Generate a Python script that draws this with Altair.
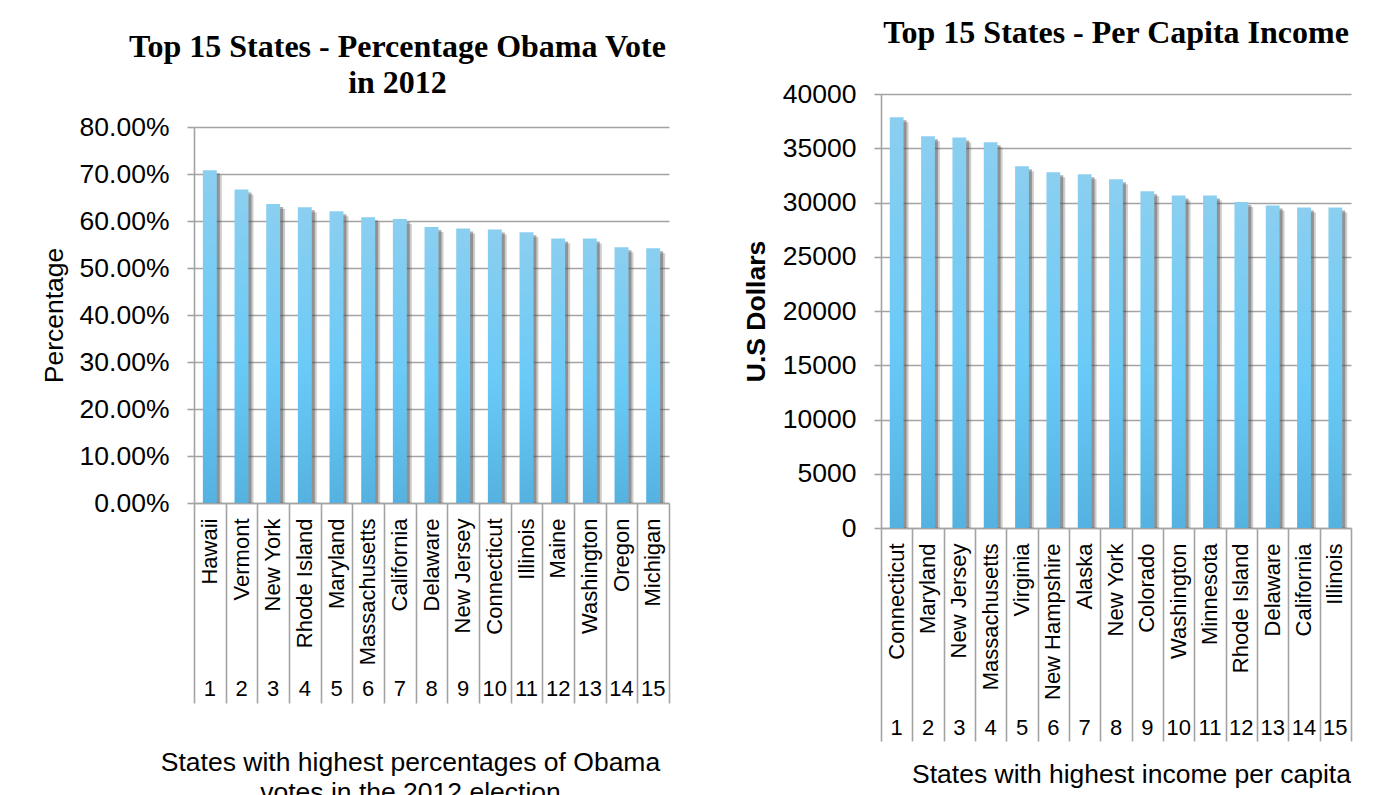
import altair as alt
import pandas as pd

# ---------------- data ----------------
obama_states = ["Hawaii", "Vermont", "New York", "Rhode Island", "Maryland",
                "Massachusetts", "California", "Delaware", "New Jersey",
                "Connecticut", "Illinois", "Maine", "Washington", "Oregon",
                "Michigan"]
obama_pct = [0.708, 0.667, 0.636, 0.629, 0.621, 0.608, 0.604, 0.587, 0.584,
             0.582, 0.576, 0.563, 0.563, 0.544, 0.542]

income_states = ["Connecticut", "Maryland", "New Jersey", "Massachusetts",
                 "Virginia", "New Hampshire", "Alaska", "New York", "Colorado",
                 "Washington", "Minnesota", "Rhode Island", "Delaware",
                 "California", "Illinois"]
income_usd = [37860, 36100, 36000, 35550, 33340, 32790, 32600, 32140, 31030,
              30650, 30650, 30050, 29720, 29550, 29550]

ranks = [str(i) for i in range(1, 16)]

pct_ticks = [0.0, 0.1, 0.2, 0.3, 0.4, 0.5, 0.6, 0.7, 0.8]
usd_ticks = [0, 5000, 10000, 15000, 20000, 25000, 30000, 35000, 40000]

# ---------------- style ----------------
SANS = "Liberation Sans"
SERIF = "Liberation Serif"
GRID = "#A3A3A3"
BIG = 26.5
SMALL = 22

bar_fill = alt.Gradient(
    gradient="linear",
    stops=[alt.GradientStop(color="#8BCFF0", offset=0),
           alt.GradientStop(color="#6ACAF7", offset=0.55),
           alt.GradientStop(color="#55B2E0", offset=1)],
    x1=0, x2=0, y1=0, y2=1,
)


def panel(states, values, y_max, y_values, y_fmt, y_title, y_title_weight,
          y_title_pad, x_title, x_title_x, x_title_pad, title_lines, title_dx,
          title_offset, width, height, sep_len, num_pad):
    df = pd.DataFrame({"state": states, "value": values, "rank": ranks})
    base = alt.Chart(df)
    xscale = alt.Scale(paddingInner=0, paddingOuter=0)
    y_enc = alt.Y(
        "value:Q",
        scale=alt.Scale(domain=[0, y_max], nice=False),
        axis=alt.Axis(orient="left", values=y_values, format=y_fmt,
                      title=y_title,
                      grid=True, gridColor=GRID, gridWidth=1.6,
                      domainColor=GRID, domainWidth=1.6,
                      tickColor=GRID, tickWidth=1.6, tickSize=7,
                      labelFont=SANS, labelFontSize=BIG, labelColor="black",
                      labelPadding=18,
                      titleFont=SANS, titleFontSize=BIG, titleColor="black",
                      titleFontWeight=y_title_weight, titlePadding=y_title_pad),
    )
    # shadow layer 1: carries the separator lines of the category axis
    shadow_a = base.mark_bar(color="#5A5A5A", opacity=0.3, xOffset=5,
                             yOffset=5, clip=True,
                             width=alt.RelativeBandSize(0.44)).encode(
        x=alt.X("rank:N", sort=ranks, scale=xscale,
                axis=alt.Axis(orient="bottom", labels=False, title=None,
                              domain=False, ticks=True, tickBand="extent",
                              tickSize=sep_len, tickColor=GRID,
                              tickWidth=1.6)),
        y=y_enc,
    )
    # shadow layer 2: carries the rank numbers and the x title
    shadow_b = base.mark_bar(color="#4A4A4A", opacity=0.45, xOffset=3,
                             yOffset=3, clip=True,
                             width=alt.RelativeBandSize(0.44)).encode(
        x=alt.X("rank:N", sort=ranks, scale=xscale,
                axis=alt.Axis(orient="bottom", labelAngle=0, ticks=False,
                              domain=False,
                              labelFont=SANS, labelFontSize=SMALL,
                              labelColor="black", labelPadding=num_pad,
                              labelBaseline="top",
                              title=x_title, titleFont=SANS,
                              titleFontSize=BIG,
                              titleFontWeight="normal", titleColor="black",
                              titleX=x_title_x, titlePadding=x_title_pad,
                              titleLineHeight=30)),
        y=y_enc,
    )
    main = base.mark_bar(fill=bar_fill, width=alt.RelativeBandSize(0.44)).encode(
        x=alt.X("state:N", sort=states, scale=xscale,
                axis=alt.Axis(orient="bottom", labelAngle=270, ticks=False,
                              domain=True, domainColor=GRID, domainWidth=1.6,
                              labelFont=SANS, labelFontSize=SMALL,
                              labelColor="black", labelPadding=15,
                              labelLimit=400, title=None)),
        y=y_enc,
    )
    return alt.layer(shadow_a, shadow_b, main).resolve_scale(
        x="independent"
    ).properties(
        width=width, height=height,
        title=alt.TitleParams(text=title_lines, font=SERIF, fontSize=32,
                              fontWeight="bold", color="black",
                              anchor="middle", dx=title_dx,
                              offset=title_offset, lineHeight=36),
    )


left = panel(obama_states, obama_pct, 0.8, pct_ticks, ".2%", "Percentage",
             "normal", 11,
             ["States with highest percentages of Obama",
              "votes in the 2012 election"], 216, 50,
             ["Top 15 States - Percentage Obama Vote", "in 2012"], -34, 14,
             475, 376, 200, 175)

right = panel(income_states, income_usd, 40000, usd_ticks, "d", "U.S Dollars",
              "bold", 12,
              "States with highest income per capita", 250, 33,
              "Top 15 States - Per Capita Income", 0, 31,
              470, 434, 213, 189)


def spacer(h):
    # invisible block that sets how far a panel's title sits from the top
    return alt.Chart(pd.DataFrame({"s": [0]})).mark_point(opacity=0).properties(
        width=1, height=h)


chart = alt.hconcat(
    alt.vconcat(spacer(31), left, spacing=0),
    alt.vconcat(spacer(17), right, spacing=0),
    spacing=73,
).properties(
    padding={"left": 41, "top": 0, "right": 5, "bottom": 5}
).configure_view(strokeWidth=0)

chart.save("out.html", embed_options={"renderer": "svg", "actions": False})
